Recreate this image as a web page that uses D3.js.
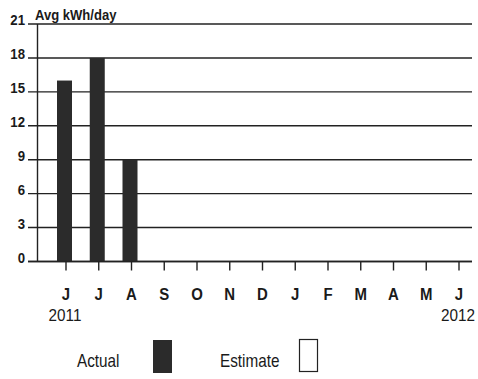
<!DOCTYPE html>
<html>
<head>
<meta charset="utf-8">
<script src="https://cdn.jsdelivr.net/npm/d3@7"></script>
<style>
  html, body { margin: 0; padding: 0; background: #fff; }
  svg text { font-family: "Liberation Sans", Arial, sans-serif; fill: #1a1a1a; }
</style>
</head>
<body>
<svg id="chart" width="478" height="379"></svg>
<script>
// Monthly average energy use, June 2011 – June 2012
const months = ["J", "J", "A", "S", "O", "N", "D", "J", "F", "M", "A", "M", "J"];
const actual = [16, 18, 9, null, null, null, null, null, null, null, null, null, null];
const yTicks = [0, 3, 6, 9, 12, 15, 18, 21];
const yearLabels = [{ index: 0, text: "2011" }, { index: 12, text: "2012" }];
const legendItems = ["Actual", "Estimate"];

const svg = d3.select("#chart");
const ink = "#222";

const x = d3.scalePoint().domain(d3.range(months.length)).range([66, 459]);
const y = d3.scaleLinear().domain([0, 21]).range([261.5, 24]);

// narrow lettering: place at (px, py) and squeeze horizontally
const narrow = (sel, px, py, sx) =>
  sel.attr("transform", (d, i) => `translate(${px(d, i)},${py(d, i)}) scale(${sx},1)`);

// horizontal rules at each y tick
svg.append("g").selectAll("line").data(yTicks).join("line")
  .attr("x1", 28).attr("x2", 472)
  .attr("y1", d => y(d)).attr("y2", d => y(d))
  .attr("stroke", ink).attr("stroke-width", 1.4);

// y tick labels
svg.append("g").selectAll("text").data(yTicks).join("text")
  .attr("text-anchor", "end")
  .attr("font-size", 15).attr("font-weight", "bold")
  .call(narrow, () => 25, d => y(d) + 1, 0.88)
  .text(d => d);

// vertical axis line
svg.append("line")
  .attr("x1", 37.5).attr("x2", 37.5)
  .attr("y1", y(21)).attr("y2", y(0))
  .attr("stroke", ink).attr("stroke-width", 1.4);

// unit title
svg.append("text")
  .attr("font-size", 14.5).attr("font-weight", "bold")
  .call(narrow, () => 35, () => 20, 0.9)
  .text("Avg kWh/day");

// bars
const barW = 15;
svg.append("g").selectAll("rect")
  .data(actual.map((v, i) => ({ v, i })).filter(d => d.v != null))
  .join("rect")
  .attr("x", d => x(d.i) - barW / 2 - 1.5)
  .attr("width", barW)
  .attr("y", d => y(d.v))
  .attr("height", d => y(0) - y(d.v))
  .attr("fill", "#2b2b2b");

// baseline redrawn over bars
svg.append("line")
  .attr("x1", 28).attr("x2", 472)
  .attr("y1", y(0)).attr("y2", y(0))
  .attr("stroke", ink).attr("stroke-width", 1.4);

// month tick marks below baseline
svg.append("g").selectAll("line").data(months).join("line")
  .attr("x1", (d, i) => x(i)).attr("x2", (d, i) => x(i))
  .attr("y1", y(0)).attr("y2", y(0) + 9)
  .attr("stroke", ink).attr("stroke-width", 1.4);

// month labels
svg.append("g").selectAll("text").data(months).join("text")
  .attr("text-anchor", "middle")
  .attr("font-size", 17).attr("font-weight", "bold")
  .call(narrow, (d, i) => x(i), () => 300, 0.88)
  .text(d => d);

// year labels
svg.append("g").selectAll("text").data(yearLabels).join("text")
  .attr("text-anchor", "middle")
  .attr("font-size", 17)
  .call(narrow, d => x(d.index) - 1, () => 321, 0.9)
  .text(d => d.text);

// legend
const legend = svg.append("g");
legend.append("text").attr("font-size", 18)
  .call(narrow, () => 77, () => 367, 0.85).text(legendItems[0]);
legend.append("rect").attr("x", 153).attr("y", 340).attr("width", 19).attr("height", 33)
  .attr("fill", "#2b2b2b");
legend.append("text").attr("font-size", 18)
  .call(narrow, () => 220, () => 367, 0.85).text(legendItems[1]);
legend.append("rect").attr("x", 299.5).attr("y", 339.5).attr("width", 18).attr("height", 32)
  .attr("fill", "none").attr("stroke", ink).attr("stroke-width", 1.2);
</script>
</body>
</html>
